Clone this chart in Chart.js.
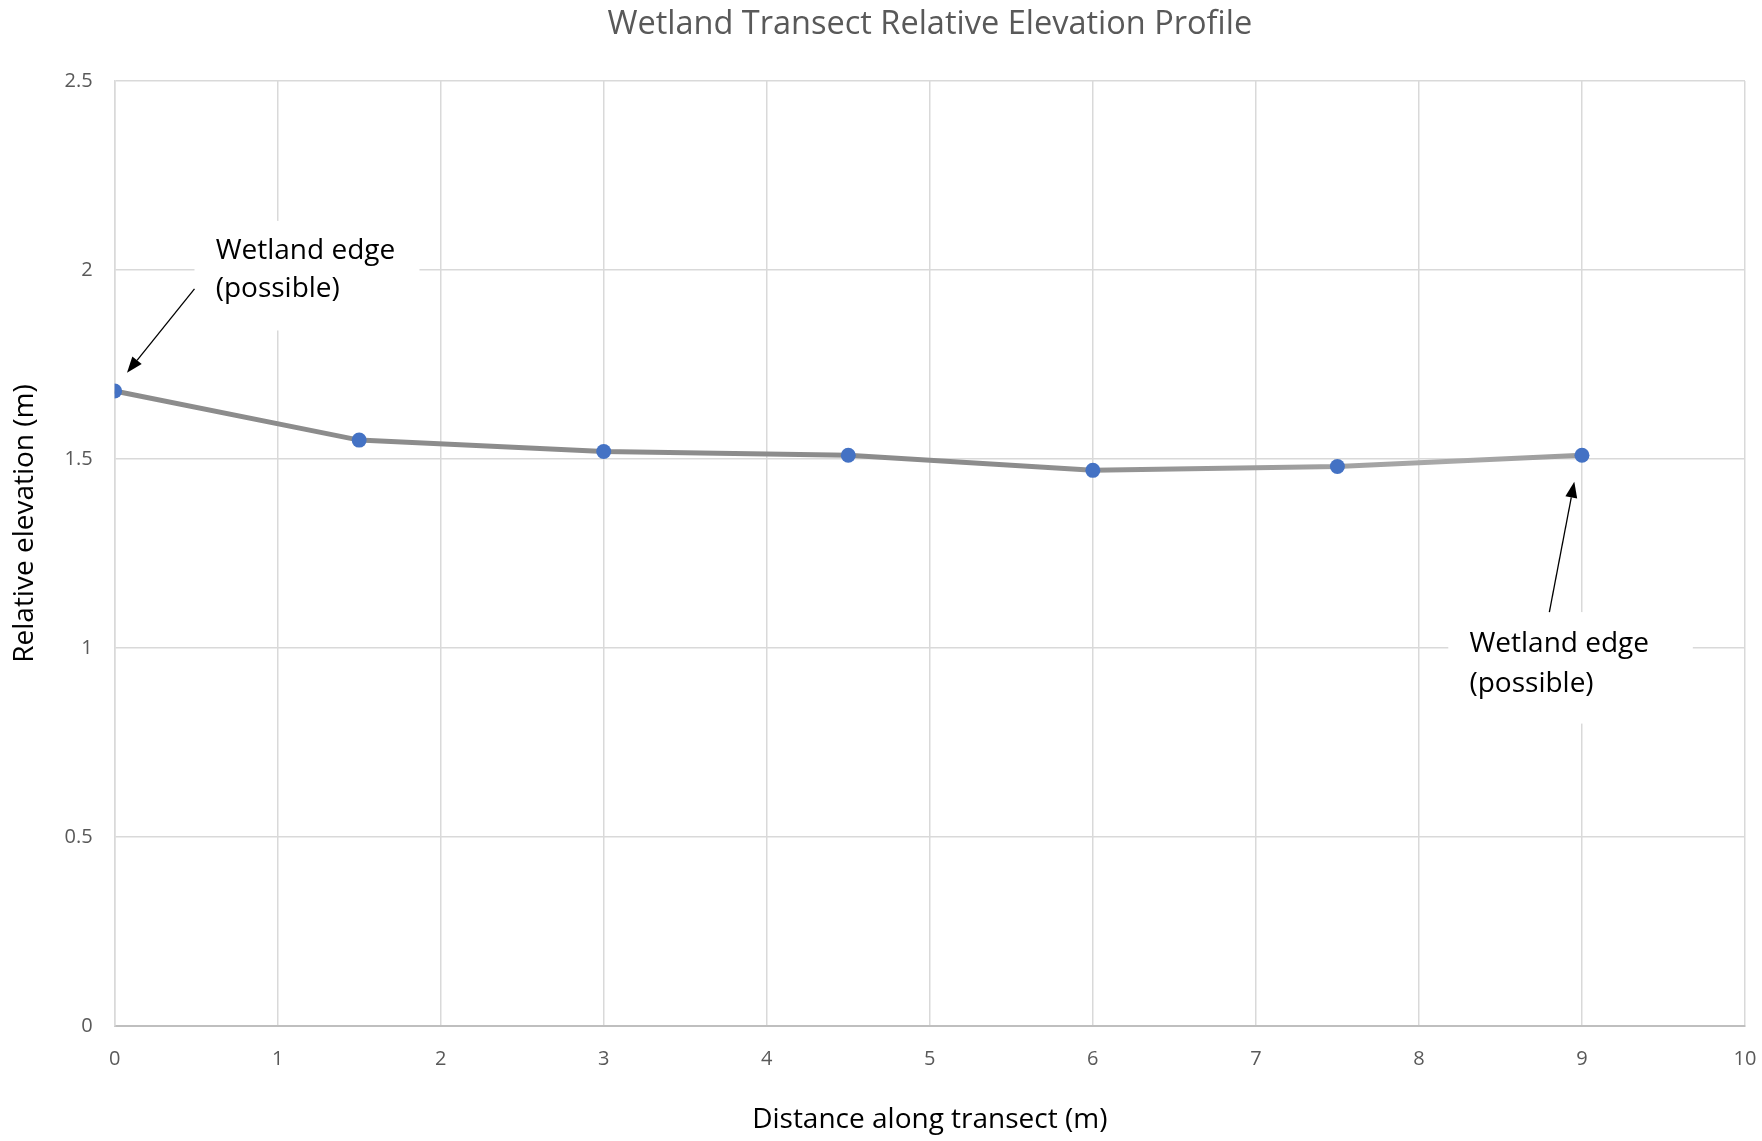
<!DOCTYPE html>
<html>
<head>
<meta charset="utf-8">
<title>Wetland Transect Relative Elevation Profile</title>
<script src="https://cdn.jsdelivr.net/npm/chart.js@4/dist/chart.umd.min.js"></script>
<style>
  html, body { margin: 0; padding: 0; background: #fff; }
  #wrap { width: 1762px; height: 1141px; }
</style>
</head>
<body>
<div id="wrap"><canvas id="myChart" width="1762" height="1141"></canvas></div>
<script>
// data
const distance = [0, 1.5, 3, 4.5, 6, 7.5, 9];
const elevation = [1.68, 1.55, 1.52, 1.51, 1.47, 1.48, 1.51];
const xTicks = [0, 1, 2, 3, 4, 5, 6, 7, 8, 9, 10];
const yTicks = [0, 0.5, 1, 1.5, 2, 2.5];
const yTickLabels = ['0', '0.5', '1', '1.5', '2', '2.5'];

const font = '"Open Sans", "Liberation Sans", sans-serif';
const yTitle = 'Relative elevation (m)';

// callouts, placed in data units
const callouts = [
  { box: [0.49, 2.13, 1.87, 1.84], text: [0.62, 2.05, 1.95], from: [0.49, 1.95], to: [0.076, 1.728] },
  { box: [8.18, 1.095, 9.68, 0.80], text: [8.31, 1.01, 0.905], from: [8.80, 1.095], to: [8.953, 1.44] }
];

const calloutPlugin = {
  id: 'callouts',
  beforeDatasetsDraw(chart) {
    const c = chart.ctx, xs = chart.scales.x, ys = chart.scales.y;
    c.save();
    callouts.forEach(a => {
      const bx = xs.getPixelForValue(a.box[0]), by = ys.getPixelForValue(a.box[1]);
      const bw = xs.getPixelForValue(a.box[2]) - bx, bh = ys.getPixelForValue(a.box[3]) - by;
      c.fillStyle = '#fff';
      c.fillRect(bx, by, bw, bh);
      c.fillStyle = '#000';
      c.font = '28px ' + font;
      c.textBaseline = 'middle';
      c.textAlign = 'left';
      const tx = xs.getPixelForValue(a.text[0]);
      c.fillText('Wetland edge', tx, ys.getPixelForValue(a.text[1]));
      c.fillText('(possible)', tx, ys.getPixelForValue(a.text[2]));
      // arrow
      const x1 = xs.getPixelForValue(a.from[0]), y1 = ys.getPixelForValue(a.from[1]);
      const x2 = xs.getPixelForValue(a.to[0]), y2 = ys.getPixelForValue(a.to[1]);
      const ang = Math.atan2(y2 - y1, x2 - x1);
      const hl = 16, hw = 6;
      c.strokeStyle = '#000';
      c.lineWidth = 1.3;
      c.beginPath();
      c.moveTo(x1, y1);
      c.lineTo(x2 - Math.cos(ang) * hl, y2 - Math.sin(ang) * hl);
      c.stroke();
      c.beginPath();
      c.moveTo(x2, y2);
      c.lineTo(x2 - Math.cos(ang) * hl + Math.sin(ang) * hw, y2 - Math.sin(ang) * hl - Math.cos(ang) * hw);
      c.lineTo(x2 - Math.cos(ang) * hl - Math.sin(ang) * hw, y2 - Math.sin(ang) * hl + Math.cos(ang) * hw);
      c.closePath();
      c.fill();
    });
    // y axis title, sits a bit above the middle of the plot like the original
    const area = chart.chartArea;
    c.translate(25, (area.top + area.bottom) / 2 - 30);
    c.rotate(-Math.PI / 2);
    c.font = '28px ' + font;
    c.textAlign = 'center';
    c.textBaseline = 'middle';
    c.fillStyle = '#000';
    c.fillText(yTitle, 0, 0);
    c.restore();
  }
};

const ctx = document.getElementById('myChart');
const myChart = new Chart(ctx, {
  type: 'line',
  data: {
    datasets: [{
      label: 'Relative elevation',
      data: distance.map((d, i) => ({ x: d, y: elevation[i] })),
      borderColor: function (context) {
        const area = context.chart.chartArea;
        if (!area) return '#8e8e8e';
        const g = context.chart.ctx.createLinearGradient(area.left, 0, area.right, 0);
        g.addColorStop(0, '#8c8c8c');
        g.addColorStop(0.55, '#8c8c8c');
        g.addColorStop(0.82, '#a9a9a9');
        g.addColorStop(0.9, '#9c9c9c');
        return g;
      },
      borderWidth: 5,
      pointRadius: 7.5,
      pointBackgroundColor: '#4472C4',
      pointBorderColor: '#4472C4',
      pointBorderWidth: 0,
      tension: 0,
      fill: false
    }]
  },
  options: {
    responsive: false,
    animation: false,
    layout: { padding: { left: 0, right: 17, top: 0, bottom: 0 } },
    plugins: {
      legend: { display: false },
      tooltip: { enabled: false },
      title: {
        display: true,
        fullSize: false,
        text: 'Wetland Transect Relative Elevation Profile',
        color: '#595959',
        font: { family: font, size: 32.5, weight: 'normal' },
        padding: { top: 5, bottom: 37 }
      }
    },
    scales: {
      x: {
        type: 'linear',
        min: 0,
        max: 10,
        afterBuildTicks: axis => { axis.ticks = xTicks.map(v => ({ value: v })); },
        afterFit: scale => { scale.height = 115; },
        // invisible tick marks give the label gap without widening the right margin
        grid: { color: '#d9d9d9', lineWidth: 1.5, drawTicks: true, tickLength: 21, tickColor: 'rgba(0,0,0,0)' },
        border: { color: '#bfbfbf', width: 2 },
        ticks: { color: '#595959', font: { family: font, size: 20 }, padding: 0 },
        title: {
          display: true,
          text: 'Distance along transect (m)',
          color: '#000',
          font: { family: font, size: 28 },
          padding: { top: 0, bottom: 4 }
        }
      },
      y: {
        min: 0,
        max: 2.5,
        afterBuildTicks: axis => { axis.ticks = yTicks.map(v => ({ value: v })); },
        afterFit: scale => { scale.width = 114.6; },
        grid: { color: '#d9d9d9', lineWidth: 1.5, drawTicks: false },
        border: { color: '#d9d9d9', width: 1.5 },
        ticks: {
          color: '#595959',
          font: { family: font, size: 20 },
          padding: 22,
          callback: value => yTickLabels[yTicks.indexOf(value)]
        },
        title: { display: false }
      }
    }
  },
  plugins: [calloutPlugin]
});
</script>
</body>
</html>
